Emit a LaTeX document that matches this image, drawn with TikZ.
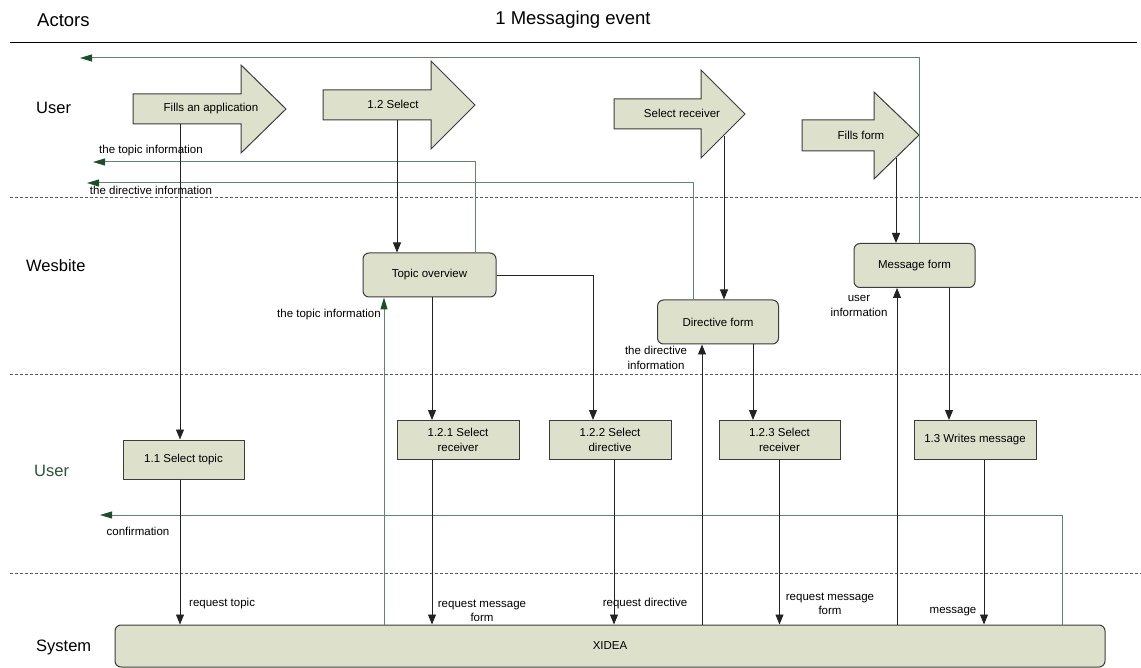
\documentclass[tikz,border=0pt]{standalone}
\usepackage{fontspec}
\setmainfont{Liberation Sans}
\usetikzlibrary{arrows.meta}
\definecolor{boxfill}{RGB}{221,225,203}
\definecolor{boxline}{RGB}{60,60,60}
\definecolor{flowline}{RGB}{35,35,35}
\definecolor{infoline}{RGB}{95,135,112}
\definecolor{infohead}{RGB}{28,78,44}
\definecolor{lanegreen}{RGB}{40,85,55}
\definecolor{sepline}{RGB}{90,90,90}

\begin{document}
\begin{tikzpicture}[x=1pt,y=-1pt,
  small/.style={font=\fontsize{11.5}{14.5}\selectfont},
  lanelbl/.style={font=\fontsize{16.5}{19}\selectfont, anchor=west, inner sep=0pt},
  headlbl/.style={font=\fontsize{18.5}{21}\selectfont, inner sep=0pt},
  procbox/.style={draw=boxline, fill=boxfill, line width=1pt, small, align=center, inner sep=0pt, minimum height=39pt},
  screen/.style={procbox, rounded corners=6pt, minimum height=44pt},
  bigarrow/.style={draw=boxline, fill=boxfill, line width=1pt, line join=miter},
  flow/.style={draw=flowline, line width=0.9pt, -{Triangle[length=10pt,width=8pt]}},
  info/.style={draw=infoline, line width=1pt, -{Triangle[length=12pt,width=7pt,fill=infohead,color=infohead]}},
  lanesep/.style={draw=sepline, line width=0.8pt, dash pattern=on 3pt off 2pt},
  lbl/.style={small, align=center, inner sep=0pt}
]
\useasboundingbox (0,0) rectangle (1141,668);

% header
\node[headlbl, anchor=west] (hactors) at (37,20) {Actors};
\node[headlbl] (hevent) at (573,20) {1 Messaging event};
\draw[line width=1pt] (10,43) -- (1137,43);

% lane separators
\draw[lanesep] (10,197) -- (1141,197);
\draw[lanesep] (10,374) -- (1141,374);
\draw[lanesep] (10,573) -- (1141,573);

% lane names
\node[lanelbl] (luser) at (36,108) {User};
\node[lanelbl] (lweb) at (26,266) {Wesbite};
\node[lanelbl, text=lanegreen] (luser2) at (34,471) {User};
\node[lanelbl] (lsys) at (36,647) {System};

% user actions as block arrows
\draw[bigarrow] (133,94) -- (241,94) -- (241,65) -- (286,109) -- (241,153) -- (241,124) -- (133,124) -- cycle;
\node[small] (fa) at (211,109) {Fills an application};
\coordinate (fa-out) at (180,124);

\draw[bigarrow] (323,90) -- (431,90) -- (431,61) -- (475,105) -- (431,149) -- (431,120) -- (323,120) -- cycle;
\node[small] (sel) at (393,104) {1.2 Select};
\coordinate (sel-out) at (397,120);

\draw[bigarrow] (614,99) -- (701,99) -- (701,70) -- (745,114) -- (701,158) -- (701,129) -- (614,129) -- cycle;
\node[small] (sr) at (682,113) {Select receiver};
\coordinate (sr-out) at (724,136);

\draw[bigarrow] (802,120) -- (874,120) -- (874,92) -- (919,135) -- (874,179) -- (874,151) -- (802,151) -- cycle;
\node[small] (ff) at (861,135) {Fills form};
\coordinate (ff-out) at (896,158);

% website screens
\node[screen, minimum width=133pt] (topic) at (429.5,275) {Topic overview};
\node[screen, minimum width=121pt] (dirf) at (718,322) {Directive form};
\node[screen, minimum width=121pt] (msgf) at (914.5,265.5) {Message form};

% user tasks
\node[procbox, minimum width=121pt] (t11) at (183.5,459.5) {1.1 Select topic};
\node[procbox, minimum width=122pt] (t121) at (458,440) {1.2.1 Select\\receiver};
\node[procbox, minimum width=122pt] (t122) at (610,440) {1.2.2 Select\\directive};
\node[procbox, minimum width=121pt] (t123) at (779.5,440) {1.2.3 Select\\receiver};
\node[procbox, minimum width=122pt] (t13) at (975,440) {1.3 Writes message};

% system
\node[draw=boxline, fill=boxfill, rounded corners=6pt, line width=1pt, minimum width=990pt, minimum height=42pt, inner sep=0pt, small] (xidea) at (610,646) {XIDEA};

% free ends of the information returns
\coordinate (mf-end) at (80,58);
\coordinate (ti-end) at (93,162);
\coordinate (di-end) at (87,183);
\coordinate (cf-end) at (100,515);

% information returned to the user
\draw[info] ([xshift=4.5pt]msgf.north) |- (mf-end);
\draw[info] ([xshift=45.5pt]topic.north) |- (ti-end);
\draw[info] ([xshift=-25pt]dirf.north) |- (di-end);
\draw[info] ([xshift=452pt]xidea.north) |- (cf-end);
\draw[info] ([xshift=-45.5pt]topic.south |- xidea.north) -- ([xshift=-45.5pt]topic.south);

% control flow
\draw[flow] (fa-out) -- (fa-out |- t11.north);
\draw[flow] (t11.south -| fa-out) -- (xidea.north -| fa-out);
\draw[flow] (sel-out) -- (sel-out |- topic.north);
\draw[flow] (topic.east) -| ([xshift=-17pt]t122.north);
\draw[flow] ([xshift=2.5pt]topic.south) -- ([xshift=2.5pt]topic.south |- t121.north);
\draw[flow] ([xshift=-26pt]t121.south) -- ([xshift=-26pt]t121.south |- xidea.north);
\draw[flow] ([xshift=4pt]t122.south) -- ([xshift=4pt]t122.south |- xidea.north);
\draw[flow] (sr-out) -- (sr-out |- dirf.north);
\draw[flow] ([xshift=35pt]dirf.south) -- ([xshift=35pt]dirf.south |- t123.north);
\draw[flow] (t123.south) -- (t123.south |- xidea.north);
\draw[flow] ([xshift=-16pt]dirf.south |- xidea.north) -- ([xshift=-16pt]dirf.south);
\draw[flow] (ff-out) -- (ff-out |- msgf.north);
\draw[flow] ([xshift=34.5pt]msgf.south) -- ([xshift=34.5pt]msgf.south |- t13.north);
\draw[flow] ([xshift=9pt]t13.south) -- ([xshift=9pt]t13.south |- xidea.north);
\draw[flow] ([xshift=-17.5pt]msgf.south |- xidea.north) -- ([xshift=-17.5pt]msgf.south);

% connector labels
\node[lbl] (l-ti1) at (151,151) {the topic information};
\node[lbl] (l-di1) at (151,190) {the directive information};
\node[lbl] (l-ti2) at (329,315) {the topic information};
\node[lbl] (l-di2) at (656,358) {the directive\\information};
\node[lbl] (l-ui) at (859,306) {user\\information};
\node[lbl] (l-cf) at (138,531) {confirmation};
\node[lbl, anchor=west] (l-rt) at (189,604) {request topic};
\node[lbl] (l-rm1) at (482,611) {request message\\form};
\node[lbl] (l-rd) at (645,604) {request directive};
\node[lbl] (l-rm2) at (830,604) {request message\\form};
\node[lbl] (l-msg) at (953,612) {message};
\end{tikzpicture}
\end{document}
